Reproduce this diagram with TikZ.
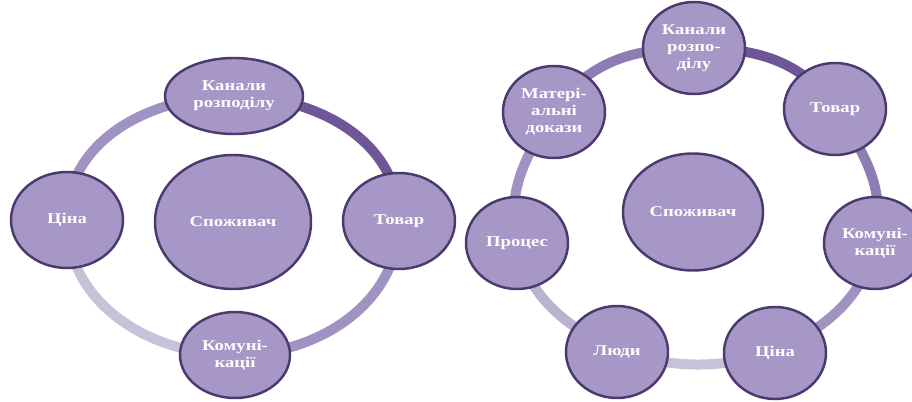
\documentclass[tikz,border=0pt]{standalone}
\usepackage{fontspec}
\newfontfamily\lblfont{Liberation Serif}[FakeStretch=1.25]
\usetikzlibrary{shapes.geometric, backgrounds}
\definecolor{bubble}{RGB}{166,151,199}
\definecolor{rim}{RGB}{74,58,110}
\definecolor{ringA}{RGB}{111,86,150}
\definecolor{ringB}{RGB}{142,125,179}
\definecolor{ringC}{RGB}{160,146,193}
\definecolor{ringD}{RGB}{186,178,207}
\definecolor{ringE}{RGB}{200,194,216}
\tikzset{
x=0.2mm, y=0.2mm, % one unit is one pixel of the scan
part/.style={ellipse, draw=rim, fill=bubble, line width=1.4pt, inner sep=0pt,
  text=white, align=center, font=\lblfont\bfseries\fontsize{8.5}{9.7}\selectfont}, % every bubble
small/.style={part, minimum width=20.4mm, minimum height=18.4mm}, % bubbles of the right ring
ring/.style={line width=2mm}, % the band that joins the bubbles
}
\begin{document}
\begin{tikzpicture}
  \useasboundingbox (0,0) rectangle (912,-402);

  % 4P
  \node[part, minimum width=31.2mm, minimum height=26.8mm] (L0) at (233,-222) {Споживач};
  \node[part, minimum width=27.6mm, minimum height=15.2mm] (L1) at (234,-96) {Канали\\розподілу};
  \node[part, minimum width=22.4mm, minimum height=19.2mm] (L2) at (399,-221) {Товар};
  \node[part, minimum width=22mm, minimum height=17.2mm] (L3) at (235,-355) {Комуні-\\кації};
  \node[part, minimum width=22.4mm, minimum height=19.2mm] (L4) at (67,-220) {Ціна};

  \begin{pgfonlayer}{background}
    \draw[ring, ringA] (L1.center) to[out=0, in=90] (L2.center);
    \draw[ring, ringC] (L2.center) to[out=-90, in=0] (L3.center);
    \draw[ring, ringE] (L3.center) to[out=180, in=-90] (L4.center);
    \draw[ring, ringC] (L4.center) to[out=90, in=180] (L1.center);
  \end{pgfonlayer}

  % 7P
  \node[part, minimum width=28mm, minimum height=23.4mm] (R0) at (693,-212) {Споживач};
  \node[small] (R1) at (694,-48) {Канали\\розпо-\\ділу};
  \node[small] (R2) at (835,-109) {Товар};
  \node[small] (R3) at (875,-243) {Комуні-\\кації};
  \node[small] (R4) at (775,-353) {Ціна};
  \node[small] (R5) at (617,-352) {Люди};
  \node[small] (R6) at (517,-243) {Процес};
  \node[small] (R7) at (554,-112) {Матері-\\альні\\докази};

  \begin{pgfonlayer}{background}
    \draw[ring, ringA] (R1.center) to[out=0, in=124] (R2.center);
    \draw[ring, ringB] (R2.center) to[out=-56, in=78] (R3.center);
    \draw[ring, ringC] (R3.center) to[out=-102, in=28] (R4.center);
    \draw[ring, ringE] (R4.center) to[out=-165, in=-15] (R5.center);
    \draw[ring, ringD] (R5.center) to[out=152, in=-78] (R6.center);
    \draw[ring, ringC] (R6.center) to[out=102, in=-123] (R7.center);
    \draw[ring, ringB] (R7.center) to[out=57, in=180] (R1.center);
  \end{pgfonlayer}
\end{tikzpicture}
\end{document}
